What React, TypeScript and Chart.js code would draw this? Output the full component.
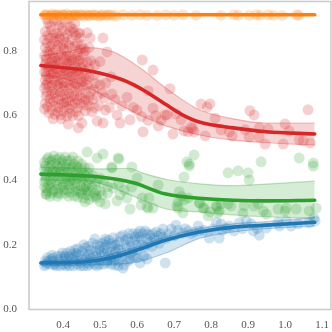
import React, { useEffect, useRef } from "react";
import { Chart, registerables } from "chart.js";

Chart.register(...registerables);

const xTickValues = [0.4, 0.5, 0.6, 0.7, 0.8, 0.9, 1.0, 1.1];
const yTickValues = [0.0, 0.2, 0.4, 0.6, 0.8];

const orangePoints = [
  [0.35,0.91],[0.355,0.912],[0.362,0.908],[0.37,0.914],[0.375,0.91],[0.383,0.912],[0.39,0.908],[0.396,0.912],[0.403,0.91],[0.41,0.914],
  [0.418,0.91],[0.425,0.908],[0.432,0.912],[0.44,0.91],[0.447,0.912],[0.456,0.908],[0.463,0.912],[0.472,0.91],[0.48,0.912],[0.49,0.91],
  [0.498,0.908],[0.507,0.912],[0.516,0.91],[0.526,0.912],[0.535,0.91],[0.543,0.908],[0.562,0.912],[0.586,0.91],[0.608,0.912],[0.627,0.91],
  [0.654,0.91],[0.678,0.912],[0.7,0.91],[0.724,0.912],[0.759,0.91],[0.827,0.91],[0.862,0.912],[0.873,0.91],[0.903,0.91],[0.922,0.912],
  [0.932,0.91],[0.954,0.912],[0.968,0.91],[0.992,0.91],[1.032,0.912],[1.036,0.91],
  [0.352,0.911],[0.366,0.91],[0.379,0.911],[0.387,0.91],[0.4,0.911],[0.414,0.91],[0.428,0.911],[0.436,0.91],[0.451,0.911],[0.468,0.91],[0.485,0.911],[0.503,0.91],[0.521,0.911],
];

const redPoints = [
  [0.36,0.885],[0.375,0.895],[0.39,0.88],[0.405,0.89],[0.42,0.875],[0.432,0.885],[0.352,0.86],[0.368,0.865],[0.383,0.855],[0.398,0.862],
  [0.412,0.85],[0.428,0.858],[0.35,0.835],[0.363,0.84],[0.378,0.83],[0.392,0.838],[0.408,0.828],[0.422,0.835],[0.437,0.825],[0.45,0.82],
  [0.352,0.81],[0.366,0.815],[0.381,0.805],[0.395,0.812],[0.41,0.8],[0.425,0.808],[0.44,0.8],[0.455,0.79],[0.35,0.785],[0.362,0.79],
  [0.375,0.78],[0.388,0.788],[0.402,0.778],[0.417,0.785],[0.43,0.775],[0.445,0.772],[0.352,0.76],[0.365,0.765],[0.378,0.755],[0.392,0.762],
  [0.406,0.752],[0.42,0.76],[0.434,0.75],[0.448,0.748],[0.35,0.735],[0.36,0.74],[0.373,0.73],[0.386,0.738],[0.4,0.728],[0.414,0.735],
  [0.428,0.725],[0.442,0.73],[0.456,0.72],[0.352,0.71],[0.366,0.715],[0.38,0.705],[0.394,0.712],[0.408,0.702],[0.422,0.71],[0.436,0.7],
  [0.45,0.705],[0.465,0.695],[0.35,0.685],[0.362,0.69],[0.376,0.68],[0.39,0.688],[0.404,0.678],[0.418,0.685],[0.432,0.675],[0.446,0.68],
  [0.46,0.67],[0.475,0.675],[0.354,0.66],[0.368,0.665],[0.382,0.655],[0.396,0.662],[0.41,0.652],[0.424,0.66],[0.438,0.65],[0.453,0.655],
  [0.468,0.645],[0.352,0.638],[0.366,0.64],[0.38,0.63],[0.395,0.636],[0.41,0.628],[0.425,0.632],[0.44,0.625],[0.457,0.632],[0.37,0.618],
  [0.386,0.612],[0.402,0.615],[0.418,0.608],[0.435,0.612],[0.372,0.74],[0.383,0.72],[0.358,0.7],[0.37,0.675],[0.358,0.75],[0.395,0.79],
  [0.365,0.8],[0.38,0.84],[0.4,0.82],[0.415,0.77],[0.385,0.695],[0.4,0.7],[0.412,0.725],[0.375,0.71],[0.37,0.77],[0.44,0.77],
  [0.39,0.65],[0.405,0.665],[0.42,0.645],[0.36,0.715],[0.43,0.69],[0.35,0.62],
  [0.357,0.898],[0.366,0.878],[0.384,0.892],[0.397,0.872],[0.414,0.898],[0.426,0.868],[0.358,0.848],[0.374,0.852],[0.389,0.845],[0.404,0.842],
  [0.418,0.862],[0.434,0.848],[0.446,0.84],[0.356,0.825],[0.371,0.822],[0.386,0.818],[0.402,0.808],[0.416,0.818],[0.432,0.816],[0.447,0.806],
  [0.358,0.798],[0.372,0.795],[0.386,0.772],[0.41,0.785],[0.424,0.772],[0.438,0.785],[0.452,0.762],[0.356,0.775],[0.362,0.752],[0.38,0.768],
  [0.398,0.748],[0.41,0.762],[0.426,0.745],[0.44,0.74],[0.355,0.722],[0.367,0.728],[0.38,0.745],[0.393,0.725],[0.406,0.738],[0.42,0.722],
  [0.434,0.735],[0.448,0.715],[0.462,0.71],[0.354,0.695],[0.37,0.695],[0.39,0.7],[0.402,0.692],[0.415,0.695],[0.428,0.702],[0.44,0.688],
  [0.455,0.69],[0.47,0.66],[0.356,0.672],[0.364,0.652],[0.378,0.668],[0.392,0.672],[0.408,0.642],[0.416,0.668],[0.43,0.66],[0.445,0.66],
  [0.46,0.648],[0.358,0.628],[0.374,0.645],[0.388,0.625],[0.402,0.64],[0.416,0.622],[0.432,0.64],[0.447,0.638],[0.362,0.608],[0.378,0.604],
  [0.394,0.602],[0.41,0.598],[0.426,0.6],[0.442,0.6],[0.46,0.615],[0.47,0.63],[0.485,0.625],[0.482,0.68],[0.492,0.66],[0.505,0.67],
  [0.47,0.745],[0.458,0.74],[0.483,0.725],[0.465,0.765],[0.455,0.808],[0.47,0.81],[0.445,0.855],
  [0.508,0.84],[0.473,0.84],[0.441,0.855],[0.465,0.856],[0.519,0.797],[0.614,0.772],[0.643,0.741],[0.63,0.677],[0.616,0.55],[0.657,0.568],
  [0.643,0.623],[0.676,0.602],[0.6,0.617],[0.581,0.587],[0.554,0.577],[0.546,0.602],[0.573,0.657],[0.532,0.667],[0.5,0.695],[0.5,0.767],
  [0.486,0.757],[0.451,0.577],[0.441,0.562],[0.414,0.574],[0.373,0.59],[0.395,0.59],[0.492,0.583],[0.508,0.577],[0.514,0.617],[0.478,0.612],
  [0.47,0.72],[0.488,0.7],[0.48,0.65],[0.497,0.63],[0.512,0.655],[0.525,0.625],[0.54,0.65],[0.56,0.63],[0.59,0.625],[0.612,0.597],
  [0.63,0.585],[0.65,0.6],[0.665,0.585],[0.515,0.7],[0.53,0.72],[0.475,0.77],[0.46,0.8],
  [0.689,0.683],[0.773,0.636],[0.797,0.636],[0.789,0.627],[0.905,0.615],[0.916,0.602],[1.062,0.618],[0.811,0.592],[1.0,0.574],[1.011,0.553],
  [0.746,0.565],[0.697,0.543],[0.727,0.553],[0.738,0.55],[0.754,0.55],[0.784,0.537],[0.827,0.556],[0.849,0.55],[0.857,0.537],[0.892,0.556],
  [0.903,0.534],[0.93,0.562],[0.93,0.534],[0.954,0.559],[0.946,0.512],[0.995,0.512],[1.038,0.525],[1.049,0.522],[1.068,0.515],[0.681,0.602],
  [0.705,0.605],[0.719,0.587],[0.75,0.56],
];

const greenPoints = [
  [0.36,0.47],[0.375,0.475],[0.39,0.47],[0.405,0.472],[0.42,0.462],[0.44,0.46],[0.35,0.455],[0.365,0.458],[0.38,0.452],[0.395,0.456],
  [0.41,0.45],[0.428,0.45],[0.45,0.45],[0.35,0.435],[0.362,0.44],[0.376,0.432],[0.39,0.438],[0.404,0.43],[0.418,0.436],[0.434,0.43],
  [0.45,0.432],[0.465,0.425],[0.355,0.415],[0.37,0.42],[0.385,0.412],[0.4,0.418],[0.415,0.41],[0.43,0.415],[0.445,0.41],[0.46,0.412],
  [0.475,0.405],[0.35,0.395],[0.364,0.4],[0.378,0.392],[0.392,0.398],[0.406,0.39],[0.42,0.396],[0.436,0.39],[0.452,0.395],[0.468,0.388],
  [0.485,0.39],[0.35,0.378],[0.365,0.38],[0.38,0.372],[0.395,0.378],[0.41,0.37],[0.425,0.376],[0.44,0.37],[0.456,0.374],[0.472,0.368],
  [0.49,0.37],[0.354,0.358],[0.37,0.36],[0.39,0.358],[0.405,0.36],[0.43,0.352],[0.447,0.358],[0.465,0.355],[0.48,0.35],[0.355,0.356],
  [0.372,0.43],[0.398,0.405],[0.385,0.445],[0.412,0.425],[0.36,0.385],[0.426,0.4],[0.44,0.44],[0.355,0.375],[0.46,0.37],[0.5,0.405],
  [0.51,0.39],
  [0.357,0.465],[0.37,0.462],[0.383,0.465],[0.398,0.462],[0.412,0.46],[0.426,0.472],[0.436,0.445],[0.458,0.44],[0.352,0.445],[0.368,0.448],
  [0.38,0.425],[0.396,0.445],[0.408,0.44],[0.424,0.442],[0.44,0.42],[0.456,0.42],[0.47,0.438],[0.36,0.425],[0.374,0.41],[0.392,0.425],
  [0.41,0.4],[0.422,0.408],[0.438,0.405],[0.452,0.405],[0.466,0.398],[0.48,0.415],[0.352,0.405],[0.368,0.39],[0.384,0.385],[0.4,0.385],
  [0.416,0.385],[0.432,0.382],[0.448,0.382],[0.462,0.38],[0.478,0.38],[0.492,0.395],[0.358,0.365],[0.374,0.368],[0.386,0.362],[0.402,0.37],
  [0.418,0.362],[0.434,0.365],[0.45,0.362],[0.465,0.365],[0.485,0.36],[0.5,0.365],[0.365,0.35],[0.385,0.35],[0.415,0.35],[0.44,0.348],
  [0.455,0.345],[0.49,0.352],[0.505,0.355],[0.52,0.38],
  [0.465,0.487],[0.508,0.481],[0.492,0.469],[0.551,0.465],[0.532,0.441],[0.549,0.469],[0.514,0.327],[0.5,0.333],[0.459,0.333],
  [0.47,0.34],[0.49,0.345],[0.52,0.36],[0.581,0.311],[0.546,0.336],[0.573,0.345],[0.614,0.345],[0.627,0.317],[0.643,0.314],[0.6,0.407],
  [0.586,0.441],[0.532,0.438],[0.586,0.379],[0.535,0.376],[0.554,0.354],[0.611,0.323],[0.63,0.314],[0.632,0.345],[0.657,0.385],[0.754,0.478],
  [0.735,0.457],[0.741,0.45],[0.727,0.41],[0.714,0.364],[0.711,0.333],[0.711,0.314],[0.724,0.299],[0.727,0.339],[0.738,0.345],[0.77,0.33],
  [0.778,0.314],[0.797,0.302],[0.816,0.317],[0.819,0.299],[0.846,0.423],[0.873,0.429],[0.9,0.423],[0.903,0.401],[0.741,0.444],[1.076,0.444],
  [0.768,0.33],[0.781,0.314],[0.792,0.29],[0.814,0.32],[0.827,0.327],[0.822,0.305],[0.846,0.327],[0.854,0.32],[0.889,0.32],[0.886,0.298],
  [0.916,0.32],[0.927,0.327],[0.941,0.305],[0.949,0.295],[0.981,0.311],[1.003,0.314],[1.0,0.305],[1.03,0.311],[1.065,0.305],[1.084,0.314],
  [0.935,0.457],[1.038,0.469],[1.076,0.453],[0.708,0.32],[0.72,0.35],[0.55,0.39],[0.565,0.37],
];

const bluePoints = [
  [0.35,0.135],[0.352,0.15],[0.358,0.16],[0.365,0.14],[0.37,0.168],[0.375,0.15],[0.382,0.135],[0.388,0.155],[0.395,0.165],[0.4,0.14],
  [0.405,0.152],[0.41,0.175],[0.417,0.135],[0.422,0.16],[0.428,0.148],[0.433,0.185],[0.438,0.14],[0.443,0.17],[0.45,0.155],[0.455,0.135],
  [0.46,0.19],[0.465,0.145],[0.47,0.172],[0.475,0.16],[0.48,0.205],[0.485,0.14],[0.488,0.18],[0.495,0.155],[0.5,0.195],[0.505,0.165],
  [0.51,0.14],[0.514,0.21],[0.52,0.18],[0.525,0.155],[0.53,0.195],[0.535,0.17],[0.54,0.138],[0.545,0.2],[0.55,0.15],[0.555,0.185],
  [0.486,0.218],[0.514,0.218],[0.562,0.23],[0.59,0.234],[0.608,0.243],[0.622,0.243],[0.643,0.234],[0.67,0.249],[0.657,0.228],[0.63,0.205],
  [0.356,0.145],[0.368,0.155],[0.378,0.142],[0.39,0.148],[0.402,0.16],[0.415,0.15],[0.425,0.172],[0.435,0.155],[0.448,0.145],[0.458,0.17],
  [0.468,0.195],[0.478,0.148],[0.49,0.165],[0.502,0.178],[0.512,0.19],[0.522,0.165],[0.532,0.205],[0.542,0.18],[0.552,0.21],[0.56,0.165],
  [0.565,0.138],[0.57,0.2],[0.575,0.22],[0.58,0.175],[0.585,0.195],[0.595,0.215],[0.6,0.185],[0.605,0.225],[0.612,0.2],[0.618,0.165],
  [0.625,0.22],[0.635,0.23],[0.64,0.195],[0.65,0.215],[0.66,0.205],[0.562,0.128],[0.608,0.144],[0.627,0.156],[0.676,0.144],[0.678,0.22],
  [0.372,0.16],[0.392,0.135],[0.412,0.142],[0.442,0.15],[0.472,0.14],[0.498,0.14],[0.518,0.145],[0.538,0.15],[0.575,0.15],[0.59,0.165],
  [0.354,0.14],[0.362,0.152],[0.376,0.138],[0.384,0.165],[0.398,0.175],[0.408,0.135],[0.42,0.18],[0.43,0.165],[0.44,0.188],[0.452,0.18],
  [0.456,0.2],[0.462,0.16],[0.474,0.185],[0.482,0.17],[0.492,0.2],[0.498,0.185],[0.506,0.205],[0.516,0.2],[0.524,0.215],[0.528,0.178],
  [0.536,0.222],[0.54,0.2],[0.548,0.188],[0.554,0.225],[0.558,0.175],[0.568,0.215],[0.572,0.19],[0.578,0.235],[0.582,0.21],[0.588,0.18],
  [0.594,0.225],[0.598,0.2],[0.602,0.235],[0.61,0.215],[0.615,0.235],[0.62,0.195],[0.628,0.235],[0.636,0.21],[0.645,0.222],[0.652,0.24],
  [0.664,0.235],[0.67,0.225],[0.428,0.135],[0.447,0.135],[0.466,0.135],[0.492,0.135],[0.53,0.14],[0.55,0.135],[0.405,0.165],[0.416,0.165],
  [0.436,0.175],[0.47,0.155],[0.5,0.15],[0.51,0.175],[0.52,0.15],[0.53,0.16],[0.545,0.165],[0.58,0.155],[0.6,0.16],
  [0.705,0.261],[0.692,0.249],[0.684,0.234],[0.7,0.228],[0.724,0.237],[0.738,0.243],[0.765,0.258],[0.746,0.234],[0.768,0.243],[0.795,0.221],
  [0.822,0.221],[0.814,0.27],[0.827,0.265],[0.805,0.249],[0.84,0.252],[0.862,0.243],[0.876,0.268],[0.895,0.274],[0.908,0.265],[0.914,0.243],
  [0.93,0.23],[0.949,0.252],[0.981,0.27],[1.003,0.274],[1.035,0.265],[1.078,0.283],[1.081,0.274],[1.065,0.268],[1.016,0.258],[0.985,0.258],
  [0.71,0.245],[0.73,0.25],[0.755,0.24],[0.78,0.245],[0.83,0.245],[0.85,0.258],[0.885,0.25],[0.925,0.25],
];

const redBandX = [0.34, 0.4, 0.47, 0.535, 0.562, 0.616, 0.678, 0.768, 0.86, 0.949, 1.08];
const redUpper = [0.785, 0.795, 0.81, 0.797, 0.782, 0.741, 0.685, 0.618, 0.59, 0.577, 0.577];
const redLower = [0.725, 0.715, 0.685, 0.645, 0.628, 0.597, 0.568, 0.54, 0.524, 0.516, 0.509];
const redMeanX = [0.34, 0.4, 0.473, 0.562, 0.62, 0.654, 0.678, 0.72, 0.768, 0.86, 0.949, 1.08];
const redMean = [0.755, 0.748, 0.738, 0.71, 0.677, 0.652, 0.634, 0.604, 0.58, 0.562, 0.55, 0.543];

const greenBandX = [0.34, 0.42, 0.5, 0.58, 0.616, 0.678, 0.768, 0.86, 0.949, 1.08];
const greenUpper = [0.44, 0.438, 0.435, 0.437, 0.422, 0.403, 0.389, 0.383, 0.388, 0.397];
const greenLower = [0.4, 0.4, 0.39, 0.355, 0.338, 0.311, 0.302, 0.293, 0.287, 0.283];
const greenMeanX = [0.34, 0.5, 0.59, 0.678, 0.768, 0.86, 0.949, 1.08];
const greenMean = [0.419, 0.41, 0.392, 0.357, 0.344, 0.338, 0.336, 0.338];

const blueBandX = [0.34, 0.454, 0.527, 0.59, 0.678, 0.768, 0.86, 0.949, 1.08];
const blueUpper = [0.15, 0.155, 0.17, 0.19, 0.225, 0.25, 0.265, 0.272, 0.285];
const blueLower = [0.135, 0.138, 0.14, 0.145, 0.175, 0.22, 0.24, 0.25, 0.258];
const blueMeanX = [0.34, 0.454, 0.527, 0.608, 0.678, 0.768, 0.86, 0.949, 1.08];
const blueMean = [0.144, 0.147, 0.159, 0.187, 0.215, 0.24, 0.255, 0.261, 0.27];

const orangeMeanX = [0.34, 1.08];
const orangeMean = [0.912, 0.912];

const rgba = (c: number[], a: number) => `rgba(${c[0]},${c[1]},${c[2]},${a})`;
const RED = [214, 39, 40];
const GREEN = [44, 160, 44];
const BLUE = [31, 119, 180];
const ORANGE = [255, 127, 14];

const zip = (xs: number[], ys: number[]) => xs.map((x, i) => ({ x, y: ys[i] }));
const toXY = (p: number[][]) => p.map(([x, y]) => ({ x, y }));

const scatter = (p: number[][], c: number[]) => ({
  type: "scatter" as const,
  data: toXY(p),
  showLine: false,
  pointRadius: 5.5,
  pointBackgroundColor: rgba(c, 0.22),
  pointBorderColor: "rgba(255,255,255,0.2)",
  pointBorderWidth: 0.5,
  order: 10,
});

const bandEdge = (xs: number[], ys: number[], c: number[], fill: string | boolean) => ({
  type: "line" as const,
  data: zip(xs, ys),
  borderColor: rgba(c, 0.3),
  borderWidth: 1.2,
  backgroundColor: rgba(c, 0.2),
  pointRadius: 0,
  cubicInterpolationMode: "monotone" as const,
  fill,
  order: 5,
});

const meanLine = (xs: number[], ys: number[], c: number[]) => ({
  type: "line" as const,
  data: zip(xs, ys),
  borderColor: rgba(c, 1),
  borderWidth: 3.6,
  pointRadius: 0,
  cubicInterpolationMode: "monotone" as const,
  fill: false,
  borderCapStyle: "round" as const,
  order: 1,
});

const frame = {
  id: "frame",
  afterDraw(chart: any) {
    const { ctx, chartArea: a } = chart;
    ctx.save();
    ctx.strokeStyle = "#cccccc";
    ctx.lineWidth = 1.6;
    ctx.strokeRect(a.left, a.top, a.right - a.left, a.bottom - a.top);
    ctx.restore();
  },
};

export default function App() {
  const ref = useRef<HTMLCanvasElement>(null);
  useEffect(() => {
    document.body.style.margin = "0";
    const chart = new Chart(ref.current as HTMLCanvasElement, {
      type: "scatter",
      data: {
        datasets: [
          scatter(orangePoints, ORANGE),
          scatter(redPoints, RED),
          scatter(greenPoints, GREEN),
          scatter(bluePoints, BLUE),
          bandEdge(redBandX, redUpper, RED, "+1"),
          bandEdge(redBandX, redLower, RED, false),
          bandEdge(greenBandX, greenUpper, GREEN, "+1"),
          bandEdge(greenBandX, greenLower, GREEN, false),
          bandEdge(blueBandX, blueUpper, BLUE, "+1"),
          bandEdge(blueBandX, blueLower, BLUE, false),
          meanLine(orangeMeanX, orangeMean, ORANGE),
          meanLine(redMeanX, redMean, RED),
          meanLine(greenMeanX, greenMean, GREEN),
          meanLine(blueMeanX, blueMean, BLUE),
        ] as any,
      },
      options: {
        animation: false,
        responsive: false,
        layout: { autoPadding: false, padding: { top: 1.5, right: 1, left: 0, bottom: 0 } },
        plugins: { legend: { display: false }, tooltip: { enabled: false } },
        scales: {
          x: {
            type: "linear",
            min: 0.308,
            max: 1.124,
            grid: { display: false },
            border: { display: false },
            afterBuildTicks: (s: any) => {
              s.ticks = xTickValues.map((value) => ({ value }));
            },
            afterFit: (s: any) => {
              s.height = 22.5;
              s.paddingLeft = 0;
              s.paddingRight = 0;
            },
            ticks: {
              autoSkip: false,
              maxRotation: 0,
              padding: 1.5,
              color: "#555555",
              font: { family: "Liberation Serif", size: 11 },
              callback: (v: any) => Number(v).toFixed(1),
            },
          },
          y: {
            type: "linear",
            min: 0,
            max: 0.953,
            grid: { display: false },
            border: { display: false },
            afterBuildTicks: (s: any) => {
              s.ticks = yTickValues.map((value) => ({ value }));
            },
            afterFit: (s: any) => {
              s.width = 29;
              s.paddingTop = 0;
              s.paddingBottom = 0;
            },
            ticks: {
              padding: 4,
              color: "#555555",
              font: { family: "Liberation Serif", size: 11 },
              callback: (v: any) => Number(v).toFixed(1),
            },
          },
        },
      },
      plugins: [frame],
    } as any);
    return () => chart.destroy();
  }, []);
  return <canvas ref={ref} width={332} height={332} style={{ display: "block" }} />;
}
